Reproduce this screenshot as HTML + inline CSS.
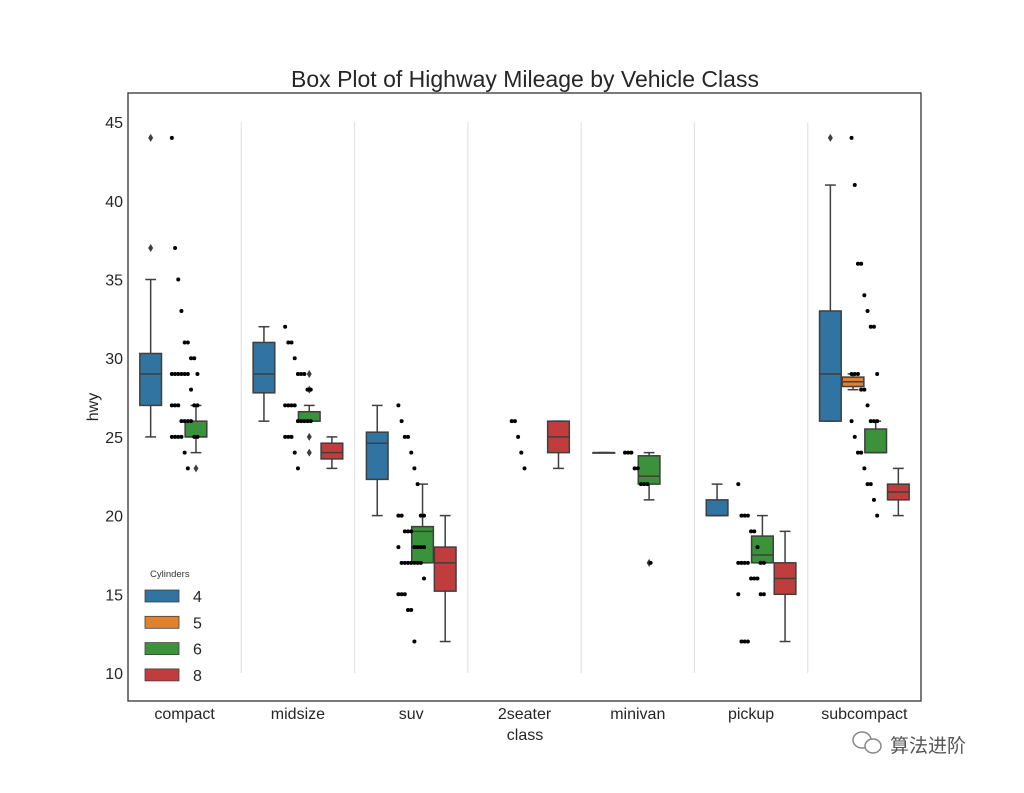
<!DOCTYPE html>
<html><head><meta charset="utf-8"><style>
body{margin:0;background:#fff;}
svg text{font-family:"Liberation Sans","Noto Sans CJK SC",sans-serif;}
</style></head><body>
<svg id="chart" width="1024" height="788" viewBox="0 0 1024 788" xmlns="http://www.w3.org/2000/svg">
<rect width="1024" height="788" fill="#fff"/>
<text x="525" y="87" font-size="23" text-anchor="middle" fill="#262626">Box Plot of Highway Mileage by Vehicle Class</text>
<g id="plot"></g>
<rect x="128" y="93" width="793" height="608" fill="none" stroke="#333" stroke-width="1.3"/>
<text x="525" y="740" font-size="16" text-anchor="middle" fill="#262626">class</text>
<text x="0" y="0" font-size="16" text-anchor="middle" fill="#262626" transform="translate(98,407) rotate(-90)">hwy</text>
<g id="legend">
<text x="150" y="577" font-size="9.5" fill="#333">Cylinders</text>
</g>
<g>
<ellipse cx="862" cy="740" rx="9" ry="8" fill="none" stroke="#888" stroke-width="1.5"/>
<ellipse cx="873" cy="746" rx="8" ry="7" fill="#fff" stroke="#888" stroke-width="1.5"/>
<text x="890" y="752" font-size="19" fill="#555">算法进阶</text>
</g>
</svg>
<script>
const categories=["compact","midsize","suv","2seater","minivan","pickup","subcompact"];
const hues=["4","5","6","8"];
const hueColors=["#3274a1","#e1812c","#3a923a","#c03d3e"];
const yTicks=[10,15,20,25,30,35,40,45];
// boxes: [categoryIndex, hueIndex, whiskerLow, q1, median, q3, whiskerHigh]
const boxes=[
[0,0,25,27,29,30.3,35],[0,2,24,25,25,26,27],
[1,0,26,27.8,29,31,32],[1,2,26,26,26,26.6,27],[1,3,23,23.6,24,24.6,25],
[2,0,20,22.3,24.6,25.3,27],[2,2,17,17,19,19.3,22],[2,3,12,15.2,17,18,20],
[3,3,23,24,25,26,26],
[4,0,24,24,24,24,24],[4,2,21,22,22.5,23.8,24],
[5,0,20,20,20,21,22],[5,2,17,17,17.5,18.7,20],[5,3,12,15,16,17,19],
[6,0,26,26,29,33,41],[6,1,28,28.2,28.5,28.8,29],[6,2,24,24,24,25.5,26],[6,3,20,21,21.5,22,23]
];
// outliers: [categoryIndex, hueIndex, value]
const outliers=[[0,0,44],[0,0,37],[0,2,23],[1,2,29],[1,2,28],[1,2,25],[1,2,24],[4,2,17],[6,0,44]];
const stripCompact=[44,37,35,33,31,31,30,30,29,29,29,29,29,29,29,28,27,27,27,27,27,26,26,26,26,25,25,25,25,25,25,24,23];
const stripMidsize=[32,31,31,30,29,29,29,28,28,27,27,27,27,26,26,26,26,26,25,25,25,24,23];
const stripSuv=[27,26,25,25,24,23,22,20,20,20,20,19,19,19,18,18,18,18,18,17,17,17,17,17,17,17,16,15,15,15,14,14,12];
const strip2seater=[26,26,25,24,23];
const stripMinivan=[24,24,24,23,23,22,22,22,17];
const stripPickup=[22,20,20,20,19,19,18,17,17,17,17,17,17,16,16,16,15,15,15,12,12,12];
const stripSubcompact=[44,41,36,36,34,33,32,32,29,29,29,29,28,28,27,26,26,26,26,25,24,24,23,22,22,21,20];
const strips=[stripCompact,stripMidsize,stripSuv,strip2seater,stripMinivan,stripPickup,stripSubcompact];

const NS="http://www.w3.org/2000/svg";
const X0=128,X1=921,Y10=673,PX=15.74;
const step=(X1-X0)/categories.length;
function yS(v){return Y10-(v-10)*PX;}
function xC(i){return X0+step*(i+0.5);}
const boxW=step*0.8/hues.length;
function xH(c,h){return xC(c)-step*0.4+boxW*(h+0.5);}
const plot=document.getElementById('plot');
function mk(tag,attrs,parent){const e=document.createElementNS(NS,tag);for(const k in attrs)e.setAttribute(k,attrs[k]);(parent||plot).appendChild(e);return e;}

// separators
for(let i=1;i<categories.length;i++){
  const l=mk('line',{x1:X0+step*i,x2:X0+step*i,y1:yS(45),y2:yS(10),stroke:'#e3e3e3','stroke-width':1.2});
  
  
}
// y ticks
yTicks.forEach(t=>{
  const tx=mk('text',{x:123,y:yS(t)+6,'font-size':16,'text-anchor':'end',fill:'#262626'});
  tx.textContent=t;
  
  
});
// x labels
categories.forEach((c,i)=>{
  const tx=mk('text',{x:xC(i),y:719,'font-size':16,'text-anchor':'middle',fill:'#262626'});
  tx.textContent=c;
  
  
});
// boxes
const LC='#3f3f3f';
boxes.forEach(b=>{
  const [c,h,lo,q1,md,q3,hi]=b;
  const g=mk('g',{});
  
  
  const x=xH(c,h),w=boxW-1;
  mk('line',{x1:x,x2:x,y1:yS(hi),y2:yS(q3),stroke:LC,'stroke-width':1.5},g);
  mk('line',{x1:x,x2:x,y1:yS(q1),y2:yS(lo),stroke:LC,'stroke-width':1.5},g);
  mk('line',{x1:x-w/4,x2:x+w/4,y1:yS(hi),y2:yS(hi),stroke:LC,'stroke-width':1.5},g);
  mk('line',{x1:x-w/4,x2:x+w/4,y1:yS(lo),y2:yS(lo),stroke:LC,'stroke-width':1.5},g);
  mk('rect',{x:x-w/2,y:yS(q3),width:w,height:Math.max(yS(q1)-yS(q3),0.5),fill:hueColors[h],stroke:LC,'stroke-width':1.5},g);
  mk('line',{x1:x-w/2,x2:x+w/2,y1:yS(md),y2:yS(md),stroke:LC,'stroke-width':1.5},g);
});
outliers.forEach(o=>{
  const x=xH(o[0],o[1]),y=yS(o[2]);
  const d=mk('path',{d:`M${x} ${y-4}L${x+2.5} ${y}L${x} ${y+4}L${x-2.5} ${y}Z`,fill:LC});
  
  
});
// strip points
strips.forEach((arr,c)=>{
  arr.forEach((v,i)=>{
    const j=((i*37)%9-4)*3.2;
    const p=mk('circle',{cx:xC(c)+j,cy:yS(v),r:2,fill:'#000'});
    
    
  });
});
// legend
const leg=document.getElementById('legend');
hues.forEach((h,i)=>{
  const y=596+i*26.3;
  const r=mk('rect',{x:145,y:y-6,width:34,height:12,fill:hueColors[i],stroke:LC,'stroke-width':0.8},leg);
  
  
  const t=mk('text',{x:193,y:y+6,'font-size':16,fill:'#262626'},leg);
  t.textContent=h;
  
  
});
</script>
</body></html>
